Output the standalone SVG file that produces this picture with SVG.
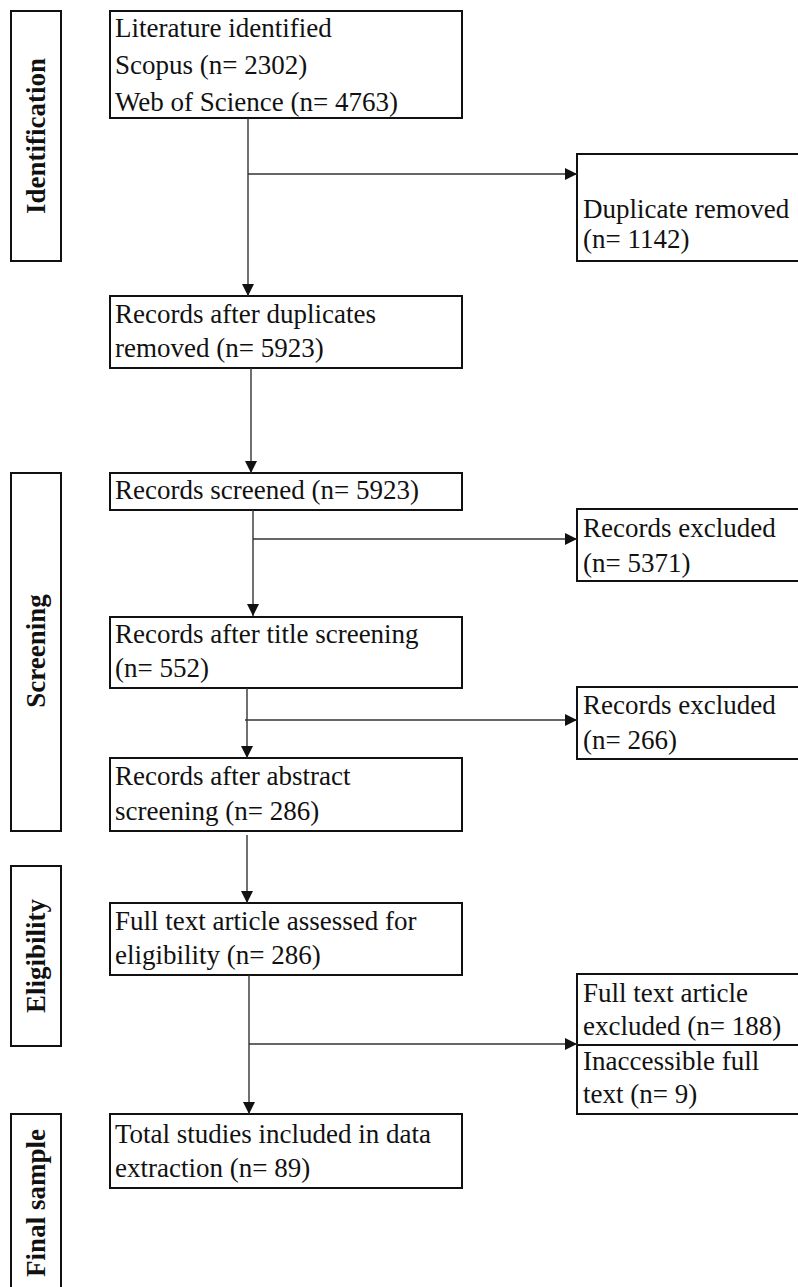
<svg xmlns="http://www.w3.org/2000/svg" width="798" height="1287" viewBox="0 0 798 1287">
<style>
.box{fill:#fff;stroke:#111;stroke-width:2}
.t{font-family:"Liberation Serif","Times New Roman",serif;font-size:27px;fill:#111}
.lab{font-family:"Liberation Serif","Times New Roman",serif;font-size:27px;font-weight:bold;fill:#111;text-anchor:middle}
.c{stroke:#333;stroke-width:1.4;fill:none}
</style>
<defs>
<marker id="ah" markerUnits="userSpaceOnUse" markerWidth="12" markerHeight="12" refX="12" refY="6" orient="auto">
<path d="M0,0 L12,6 L0,12 z" fill="#111"/>
</marker>
</defs>
<g id="stage-identification"><rect class="box" x="11" y="11" width="50" height="250"/><text class="lab" transform="translate(45,136) rotate(-90)">Identification</text></g>
<g id="stage-screening"><rect class="box" x="11" y="473" width="50" height="358"/><text class="lab" transform="translate(45,651) rotate(-90)">Screening</text></g>
<g id="stage-eligibility"><rect class="box" x="11" y="866" width="50" height="180"/><text class="lab" transform="translate(45,956) rotate(-90)">Eligibility</text></g>
<g id="stage-final"><rect class="box" x="11" y="1114" width="50" height="200"/><text class="lab" transform="translate(45,1203) rotate(-90)">Final sample</text></g>

<g id="n-identified"><rect class="box" x="110" y="11" width="352" height="107"/>
<text class="t" x="115" y="37">Literature identified</text>
<text class="t" x="115" y="74">Scopus (n= 2302)</text>
<text class="t" x="115" y="111">Web of Science (n= 4763)</text></g>
<g id="n-duplicates"><rect class="box" x="577" y="154" width="240" height="107"/>
<text class="t" x="583" y="218">Duplicate removed</text>
<text class="t" x="583" y="248">(n= 1142)</text></g>
<g id="n-after-dup"><rect class="box" x="110" y="296" width="352" height="72"/>
<text class="t" x="115" y="323">Records after duplicates</text>
<text class="t" x="115" y="357">removed (n= 5923)</text></g>
<g id="n-screened"><rect class="box" x="110" y="473" width="352" height="37"/>
<text class="t" x="115" y="499">Records screened (n= 5923)</text></g>
<g id="n-excl1"><rect class="box" x="577" y="509" width="240" height="72"/>
<text class="t" x="583" y="537">Records excluded</text>
<text class="t" x="583" y="572">(n= 5371)</text></g>
<g id="n-title"><rect class="box" x="110" y="617" width="352" height="71"/>
<text class="t" x="115" y="643">Records after title screening</text>
<text class="t" x="115" y="677">(n= 552)</text></g>
<g id="n-excl2"><rect class="box" x="577" y="687" width="240" height="72"/>
<text class="t" x="583" y="714">Records excluded</text>
<text class="t" x="583" y="749">(n= 266)</text></g>
<g id="n-abstract"><rect class="box" x="110" y="758" width="352" height="73"/>
<text class="t" x="115" y="785">Records after abstract</text>
<text class="t" x="115" y="820">screening (n= 286)</text></g>
<g id="n-fulltext"><rect class="box" x="110" y="903" width="352" height="72"/>
<text class="t" x="115" y="930">Full text article assessed for</text>
<text class="t" x="115" y="964">eligibility (n= 286)</text></g>
<g id="n-excl3"><rect class="box" x="577" y="974" width="240" height="140"/>
<line x1="577" y1="1045" x2="817" y2="1045" stroke="#111" stroke-width="2"/>
<text class="t" x="583" y="1002">Full text article</text>
<text class="t" x="583" y="1035">excluded (n= 188)</text>
<text class="t" x="583" y="1070">Inaccessible full</text>
<text class="t" x="583" y="1103">text (n= 9)</text></g>
<g id="n-final"><rect class="box" x="110" y="1114" width="352" height="74"/>
<text class="t" x="115" y="1143">Total studies included in data</text>
<text class="t" x="115" y="1177">extraction (n= 89)</text></g>

<g id="connectors">
<line class="c" x1="248" y1="118" x2="248" y2="296" marker-end="url(#ah)"/>
<line class="c" x1="248" y1="174" x2="577" y2="174" marker-end="url(#ah)"/>
<line class="c" x1="251" y1="368" x2="251" y2="473" marker-end="url(#ah)"/>
<line class="c" x1="253" y1="510" x2="253" y2="616" marker-end="url(#ah)"/>
<line class="c" x1="253" y1="539" x2="577" y2="539" marker-end="url(#ah)"/>
<line class="c" x1="247" y1="688" x2="247" y2="758" marker-end="url(#ah)"/>
<line class="c" x1="245" y1="720" x2="577" y2="720" marker-end="url(#ah)"/>
<line class="c" x1="247" y1="835" x2="247" y2="903" marker-end="url(#ah)"/>
<line class="c" x1="249" y1="975" x2="249" y2="1114" marker-end="url(#ah)"/>
<line class="c" x1="249" y1="1044" x2="577" y2="1044" marker-end="url(#ah)"/>
</g>
</svg>
